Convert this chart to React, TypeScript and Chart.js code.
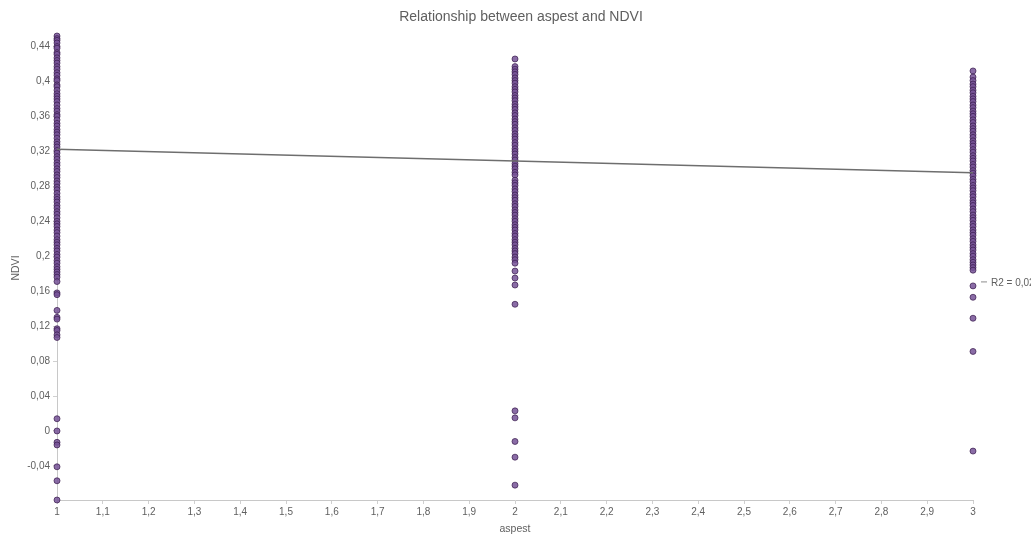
import React, { useEffect, useRef } from "react";
import { Chart, registerables } from "chart.js";

Chart.register(...registerables);

// ---- data ----
const chartTitle = "Relationship between aspest and NDVI";
const xAxisTitle = "aspest";
const yAxisTitle = "NDVI";
const legendLabel = "R2 = 0,02";

const aspectCategories = [1, 2, 3];

const ndviAspect1 = [
  0.452, 0.449, 0.447, 0.444, 0.440, 0.438, 0.433, 0.431, 0.427, 0.424, 0.421, 0.417,
  0.414, 0.410, 0.407, 0.403, 0.401, 0.396, 0.394, 0.390, 0.386, 0.383, 0.380, 0.377,
  0.373, 0.369, 0.366, 0.362, 0.360, 0.356, 0.352, 0.349, 0.345, 0.342, 0.339, 0.335,
  0.331, 0.328, 0.325, 0.321, 0.318, 0.314, 0.311, 0.307, 0.304, 0.300, 0.297, 0.293,
  0.290, 0.286, 0.283, 0.279, 0.276, 0.272, 0.268, 0.265, 0.262, 0.258, 0.255, 0.251,
  0.248, 0.244, 0.240, 0.237, 0.234, 0.230, 0.227, 0.223, 0.219, 0.216, 0.213, 0.209,
  0.206, 0.202, 0.199, 0.195, 0.192, 0.188, 0.185, 0.182, 0.179, 0.176, 0.171,
  0.158, 0.156, 0.138, 0.130, 0.128, 0.117, 0.115, 0.110, 0.107,
  0.014, 0.0, -0.013, -0.016, -0.041, -0.057, -0.079,
];

const ndviAspect2 = [
  0.4257, 0.417, 0.414, 0.411, 0.408, 0.404, 0.401, 0.398, 0.394, 0.391, 0.388, 0.384,
  0.381, 0.378, 0.374, 0.371, 0.368, 0.364, 0.361, 0.357, 0.354, 0.351, 0.347, 0.344,
  0.340, 0.337, 0.334, 0.330, 0.327, 0.323, 0.320, 0.317, 0.313, 0.310, 0.306, 0.303,
  0.300, 0.296, 0.293, 0.287, 0.284, 0.281, 0.277, 0.274, 0.270, 0.267, 0.264, 0.260,
  0.257, 0.253, 0.250, 0.247, 0.243, 0.240, 0.236, 0.233, 0.230, 0.226, 0.223, 0.219,
  0.216, 0.213, 0.209, 0.206, 0.203, 0.199, 0.196,
  0.192, 0.183, 0.175, 0.167, 0.145,
  0.023, 0.015, -0.012, -0.030, -0.062,
];

const ndviAspect3 = [
  0.412, 0.405, 0.401, 0.397, 0.394, 0.390, 0.387, 0.383, 0.380, 0.377, 0.373, 0.370,
  0.366, 0.363, 0.360, 0.356, 0.353, 0.349, 0.346, 0.343, 0.339, 0.336, 0.332, 0.329,
  0.326, 0.322, 0.319, 0.315, 0.312, 0.309, 0.305, 0.302, 0.298, 0.295, 0.292, 0.288,
  0.285, 0.281, 0.278, 0.275, 0.271, 0.268, 0.264, 0.261, 0.258, 0.254, 0.251, 0.247,
  0.244, 0.241, 0.237, 0.234, 0.230, 0.227, 0.224, 0.220, 0.217, 0.213, 0.210, 0.207,
  0.203, 0.200, 0.196, 0.193, 0.190, 0.187, 0.184,
  0.166, 0.153, 0.129, 0.091, -0.023,
];

const trendX = [1, 3];
const trendY = [0.3225, 0.2955];

const yMin = -0.079;
const yMax = 0.452;
const yStep = 0.04;
const xMin = 1;
const xMax = 3;
const xStep = 0.1;

// ---- helpers ----
const fmt = (v: number) => {
  const r = Math.round(v * 100) / 100;
  return String(r).replace(".", ",");
};

const textColor = "#5f5f5f";
const fontFamily = "'Liberation Sans', Arial, sans-serif";

const decorPlugin = {
  id: "decor",
  afterDraw(chart: any) {
    const { ctx, chartArea } = chart;
    ctx.save();
    // title
    ctx.fillStyle = textColor;
    ctx.font = `14px ${fontFamily}`;
    ctx.textAlign = "center";
    ctx.textBaseline = "middle";
    const cx = (chartArea.left + chartArea.right) / 2 + 6;
    ctx.fillText(chartTitle, cx, chartArea.top * 0.47);
    // legend entry for the trendline
    const y = chartArea.top + (chartArea.bottom - chartArea.top) * 0.53;
    const x = chartArea.right + 8;
    ctx.strokeStyle = "#8c8c8c";
    ctx.lineWidth = 1;
    ctx.beginPath();
    ctx.moveTo(x, y);
    ctx.lineTo(x + 6, y);
    ctx.stroke();
    ctx.font = `10px ${fontFamily}`;
    ctx.textAlign = "left";
    ctx.fillText(legendLabel, x + 10, y + 1);
    ctx.restore();
  },
};

export default function App() {
  const canvasRef = useRef<HTMLCanvasElement | null>(null);

  useEffect(() => {
    if (!canvasRef.current) return;
    const columns = [ndviAspect1, ndviAspect2, ndviAspect3];
    const points: { x: number; y: number }[] = [];
    columns.forEach((col, i) => {
      col.forEach((v) => points.push({ x: aspectCategories[i], y: v }));
    });
    const trend = trendX.map((x, i) => ({ x, y: trendY[i] }));

    const chart = new Chart(canvasRef.current, {
      type: "scatter",
      data: {
        datasets: [
          {
            type: "line",
            label: legendLabel,
            data: trend,
            borderColor: "#6e6e6e",
            borderWidth: 1.5,
            pointRadius: 0,
            showLine: true,
            fill: false,
            order: 0,
          } as any,
          {
            label: "NDVI",
            data: points,
            backgroundColor: "rgba(118, 82, 150, 0.85)",
            borderColor: "rgba(55, 25, 75, 0.7)",
            borderWidth: 1,
            pointRadius: 3,
            pointHoverRadius: 3,
            clip: false,
            order: 1,
          } as any,
        ],
      },
      options: {
        animation: false,
        responsive: false,
        maintainAspectRatio: false,
        layout: { padding: { left: 0, right: 58, top: 36, bottom: 0 } },
        plugins: {
          legend: { display: false },
          tooltip: { enabled: false },
          title: { display: false },
        },
        scales: {
          x: {
            type: "linear",
            min: xMin,
            max: xMax,
            ticks: {
              stepSize: xStep,
              autoSkip: false,
              maxRotation: 0,
              color: textColor,
              font: { family: fontFamily, size: 10 },
              padding: 2,
              callback: (v: any) => fmt(Number(v)),
            },
            grid: {
              display: true,
              drawOnChartArea: false,
              drawTicks: true,
              tickLength: 4,
              color: "#d0d0d0",
            },
            border: { display: true, color: "#c8c8c8" },
            title: {
              display: true,
              text: xAxisTitle,
              color: textColor,
              font: { family: fontFamily, size: 10.5 },
              padding: { top: 0, bottom: 0 },
            },
            afterFit: (scale: any) => {
              scale.height = 35;
            },
          },
          y: {
            type: "linear",
            min: yMin,
            max: yMax,
            ticks: {
              stepSize: yStep,
              includeBounds: false,
              color: textColor,
              font: { family: fontFamily, size: 10 },
              padding: 3,
              callback: (v: any) => fmt(Number(v)),
            },
            grid: {
              display: true,
              drawOnChartArea: false,
              drawTicks: true,
              tickLength: 4,
              color: "#d0d0d0",
            },
            border: { display: true, color: "#c8c8c8" },
            title: {
              display: true,
              text: yAxisTitle,
              color: textColor,
              font: { family: fontFamily, size: 10.5 },
              padding: { top: 10, bottom: 0 },
            },
            afterFit: (scale: any) => {
              scale.width = 57;
            },
          },
        },
      } as any,
      plugins: [decorPlugin],
    });
    return () => chart.destroy();
  }, []);

  return (
    <div style={{ position: "fixed", left: 0, top: 0, width: 1031, height: 535, background: "#fff" }}>
      <canvas ref={canvasRef} width={1031} height={535} style={{ display: "block" }} />
    </div>
  );
}
